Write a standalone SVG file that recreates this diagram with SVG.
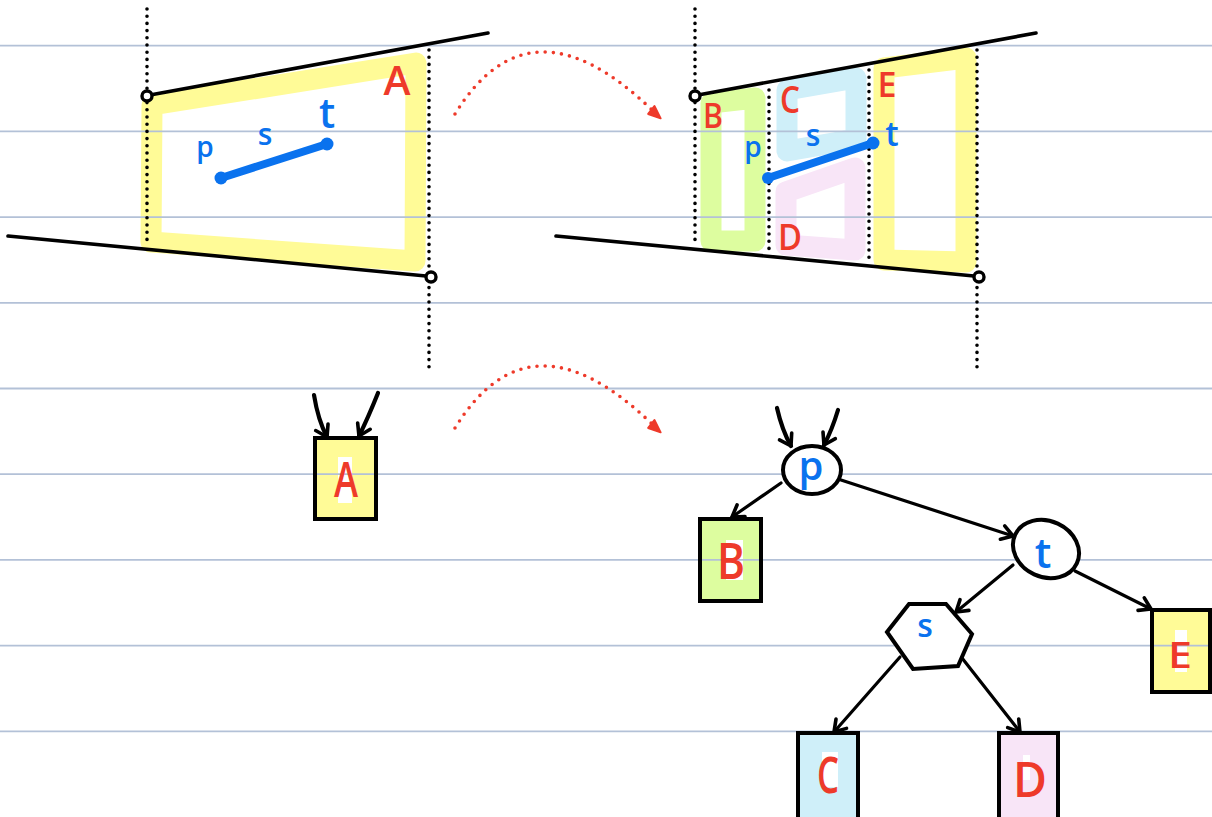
<svg xmlns="http://www.w3.org/2000/svg" width="1212" height="817" viewBox="0 0 1212 817">
<style>
.rule{stroke:#b3c1d7;stroke-width:1.8}
.hl{fill:none;stroke-linejoin:round;stroke-width:21}
.yel{stroke:#fffb97}
.grn{stroke:#ddfd9f}
.blu{stroke:#cfeff9}
.pnk{stroke:#f8e5f7}
.dot{stroke:#000;stroke-width:3.6;stroke-linecap:round;stroke-dasharray:0 7.2;fill:none}
.ln{stroke:#000;stroke-width:3.6;stroke-linecap:round;fill:none}
.end{stroke:#000;stroke-width:3.4;fill:#fff}
.seg{stroke:#0a72ee;stroke-width:8;stroke-linecap:round}
.cap{fill:#0a72ee}
.arc{stroke:#ee3a2a;stroke-width:3.6;stroke-linecap:round;stroke-dasharray:0 8.2;fill:none}
.lb{font-family:"Open Sans","DejaVu Sans",sans-serif;font-weight:600;text-anchor:middle}
.r{fill:#ee3a2a}
.b{fill:#0a72ee}
.box{stroke:#000;stroke-width:4}
.nd{stroke:#000;stroke-width:4;fill:#fff}
.edge{stroke:#000;stroke-width:3.2;stroke-linecap:round;fill:none}
.inc{stroke:#000;stroke-width:4.2;stroke-linecap:round;fill:none}
.wp{fill:#fff}
</style>
<defs>
<marker id="ah" markerUnits="userSpaceOnUse" markerWidth="24" markerHeight="24" refX="14" refY="10" orient="auto" overflow="visible">
<path d="M3,3 L14,10 L3,17" fill="none" stroke="#000" stroke-width="3.6" stroke-linecap="round" stroke-linejoin="round"/>
</marker>
<marker id="rh" markerUnits="userSpaceOnUse" markerWidth="20" markerHeight="20" refX="1" refY="5.5" orient="auto" overflow="visible">
<path d="M0,1 L13,5.5 L1,11 Z" fill="#ee3a2a" stroke="#ee3a2a" stroke-width="2" stroke-linejoin="round"/>
</marker>
</defs>
<rect width="1212" height="817" fill="#fff"/>

<!-- highlight fills and box fills -->
<g id="fills">
<polygon class="hl yel" points="152,105 416,63 415,261 151,242"/>
<polygon class="hl grn" points="711,103 755,98 755,241 711,241"/>
<polygon class="hl blu" points="787,90 856,78 856,139 787,151"/>
<polygon class="hl pnk" points="786,192 855,168 855,250 786,245"/>
<polygon class="hl yel" points="884,68 966,58 966,262 884,260"/>
<rect x="315" y="438" width="61" height="81" fill="#fffb97"/>
<rect x="700" y="519" width="61" height="82" fill="#ddfd9f"/>
<rect x="798" y="733" width="60" height="90" fill="#cfeff9"/>
<rect x="999" y="733" width="59" height="90" fill="#f8e5f7"/>
<rect x="1152" y="610" width="58" height="82" fill="#fffb97"/>
<rect class="wp" x="338" y="457" width="14" height="46"/>
<rect class="wp" x="726" y="540" width="17" height="40"/>
<rect class="wp" x="822" y="752" width="16" height="35"/>
<rect class="wp" x="1023" y="755" width="7" height="25"/>
<rect class="wp" x="1175" y="630" width="12" height="42"/>
</g>

<g id="rules">
<line class="rule" x1="0" y1="45.7" x2="1212" y2="45.7"/>
<line class="rule" x1="0" y1="131.4" x2="1212" y2="131.4"/>
<line class="rule" x1="0" y1="217.1" x2="1212" y2="217.1"/>
<line class="rule" x1="0" y1="302.8" x2="1212" y2="302.8"/>
<line class="rule" x1="0" y1="388.5" x2="1212" y2="388.5"/>
<line class="rule" x1="0" y1="474.2" x2="1212" y2="474.2"/>
<line class="rule" x1="0" y1="559.9" x2="1212" y2="559.9"/>
<line class="rule" x1="0" y1="645.6" x2="1212" y2="645.6"/>
<line class="rule" x1="0" y1="731.3" x2="1212" y2="731.3"/>
</g>

<!-- top-left scene -->
<g id="scene-before">
<line class="dot" x1="147" y1="9" x2="147" y2="243"/>
<line class="dot" x1="429" y1="50" x2="429" y2="367"/>
<line class="ln" x1="150" y1="95" x2="488" y2="33"/>
<line class="ln" x1="8" y1="236" x2="426" y2="276"/>
<circle class="end" cx="147" cy="96" r="5"/>
<circle class="end" cx="431" cy="277" r="5"/>
<line class="seg" x1="221" y1="178" x2="327" y2="144"/>
<circle class="cap" cx="221" cy="178" r="6.5"/>
<circle class="cap" cx="327" cy="144" r="6.5"/>
<text class="lb r" x="397" y="95" font-size="40" textLength="27" lengthAdjust="spacingAndGlyphs">A</text>
<text class="lb b" x="205" y="157" font-size="28">p</text>
<text class="lb b" x="265" y="145" font-size="30">s</text>
<text class="lb b" x="327" y="128" font-size="41">t</text>
</g>

<!-- top-right scene -->
<g id="scene-after">
<line class="dot" x1="695" y1="9" x2="695" y2="243"/>
<line class="dot" x1="977" y1="50" x2="977" y2="367"/>
<line class="dot" x1="769" y1="90" x2="769" y2="250"/>
<line class="dot" x1="869" y1="70" x2="869" y2="261"/>
<line class="ln" x1="698" y1="95" x2="1036" y2="33"/>
<line class="ln" x1="556" y1="236" x2="974" y2="276"/>
<circle class="end" cx="695" cy="96" r="5"/>
<circle class="end" cx="979" cy="277" r="5"/>
<line class="seg" x1="768" y1="178" x2="873" y2="143"/>
<circle class="cap" cx="768" cy="178" r="6"/>
<circle class="cap" cx="873" cy="143" r="6.5"/>
<text class="lb r" x="713" y="128" font-size="34" textLength="20" lengthAdjust="spacingAndGlyphs">B</text>
<text class="lb r" x="790" y="113" font-size="37" textLength="20" lengthAdjust="spacingAndGlyphs">C</text>
<text class="lb r" x="887" y="97" font-size="34" textLength="19" lengthAdjust="spacingAndGlyphs">E</text>
<text class="lb r" x="790" y="250" font-size="36" textLength="24" lengthAdjust="spacingAndGlyphs">D</text>
<text class="lb b" x="753" y="157" font-size="28">p</text>
<text class="lb b" x="813" y="146" font-size="30">s</text>
<text class="lb b" x="892" y="146" font-size="34">t</text>
</g>

<!-- transformation arrows -->
<g id="transform-arrows">
<path class="arc" d="M455,114 Q530,-8 652,110" marker-end="url(#rh)"/>
<path class="arc" d="M455,428 Q530,306 652,424" marker-end="url(#rh)"/>
</g>

<!-- connectors -->
<g id="connectors">
<path class="inc" d="M314,395 Q318,420 327,437" marker-end="url(#ah)"/>
<path class="inc" d="M378,393 Q368,418 359,436" marker-end="url(#ah)"/>
<path class="inc" d="M777,408 Q782,430 791,446" marker-end="url(#ah)"/>
<path class="inc" d="M838,410 Q832,430 824,445" marker-end="url(#ah)"/>
<line class="edge" x1="781" y1="483" x2="732" y2="517" marker-end="url(#ah)"/>
<line class="edge" x1="841" y1="480" x2="1013" y2="536" marker-end="url(#ah)"/>
<line class="edge" x1="1013" y1="565" x2="956" y2="612" marker-end="url(#ah)"/>
<line class="edge" x1="1075" y1="571" x2="1151" y2="609" marker-end="url(#ah)"/>
<line class="edge" x1="900" y1="657" x2="834" y2="732" marker-end="url(#ah)"/>
<line class="edge" x1="962" y1="658" x2="1020" y2="732" marker-end="url(#ah)"/>
</g>

<!-- tree nodes -->
<g id="node-A">
<rect class="box" x="315" y="438" width="61" height="81" fill="none"/>
<text class="lb r" x="346" y="497" font-size="48" textLength="24" lengthAdjust="spacingAndGlyphs">A</text>
</g>
<g id="node-p">
<ellipse class="nd" cx="812" cy="470" rx="29" ry="24"/>
<text class="lb b" x="811" y="480" font-size="40">p</text>
</g>
<g id="node-t">
<ellipse class="nd" cx="1046" cy="549" rx="34" ry="28" transform="rotate(25 1046 549)"/>
<text class="lb b" x="1043" y="568" font-size="42">t</text>
</g>
<g id="node-s">
<polygon class="nd" points="887,632 909,604 946,604 972,634 958,666 913,669"/>
<text class="lb b" x="925" y="637" font-size="32">s</text>
</g>
<g id="node-B">
<rect class="box" x="700" y="519" width="61" height="82" fill="none"/>
<text class="lb r" x="731" y="579" font-size="50" textLength="28" lengthAdjust="spacingAndGlyphs">B</text>
</g>
<g id="node-E">
<rect class="box" x="1152" y="610" width="58" height="82" fill="none"/>
<text class="lb r" x="1180" y="668" font-size="36" textLength="24" lengthAdjust="spacingAndGlyphs">E</text>
</g>
<g id="node-C">
<rect class="box" x="798" y="733" width="60" height="90" fill="none"/>
<text class="lb r" x="828" y="793" font-size="50" textLength="22" lengthAdjust="spacingAndGlyphs">C</text>
</g>
<g id="node-D">
<rect class="box" x="999" y="733" width="59" height="90" fill="none"/>
<text class="lb r" x="1030" y="797" font-size="48" textLength="34" lengthAdjust="spacingAndGlyphs">D</text>
</g>
</svg>
